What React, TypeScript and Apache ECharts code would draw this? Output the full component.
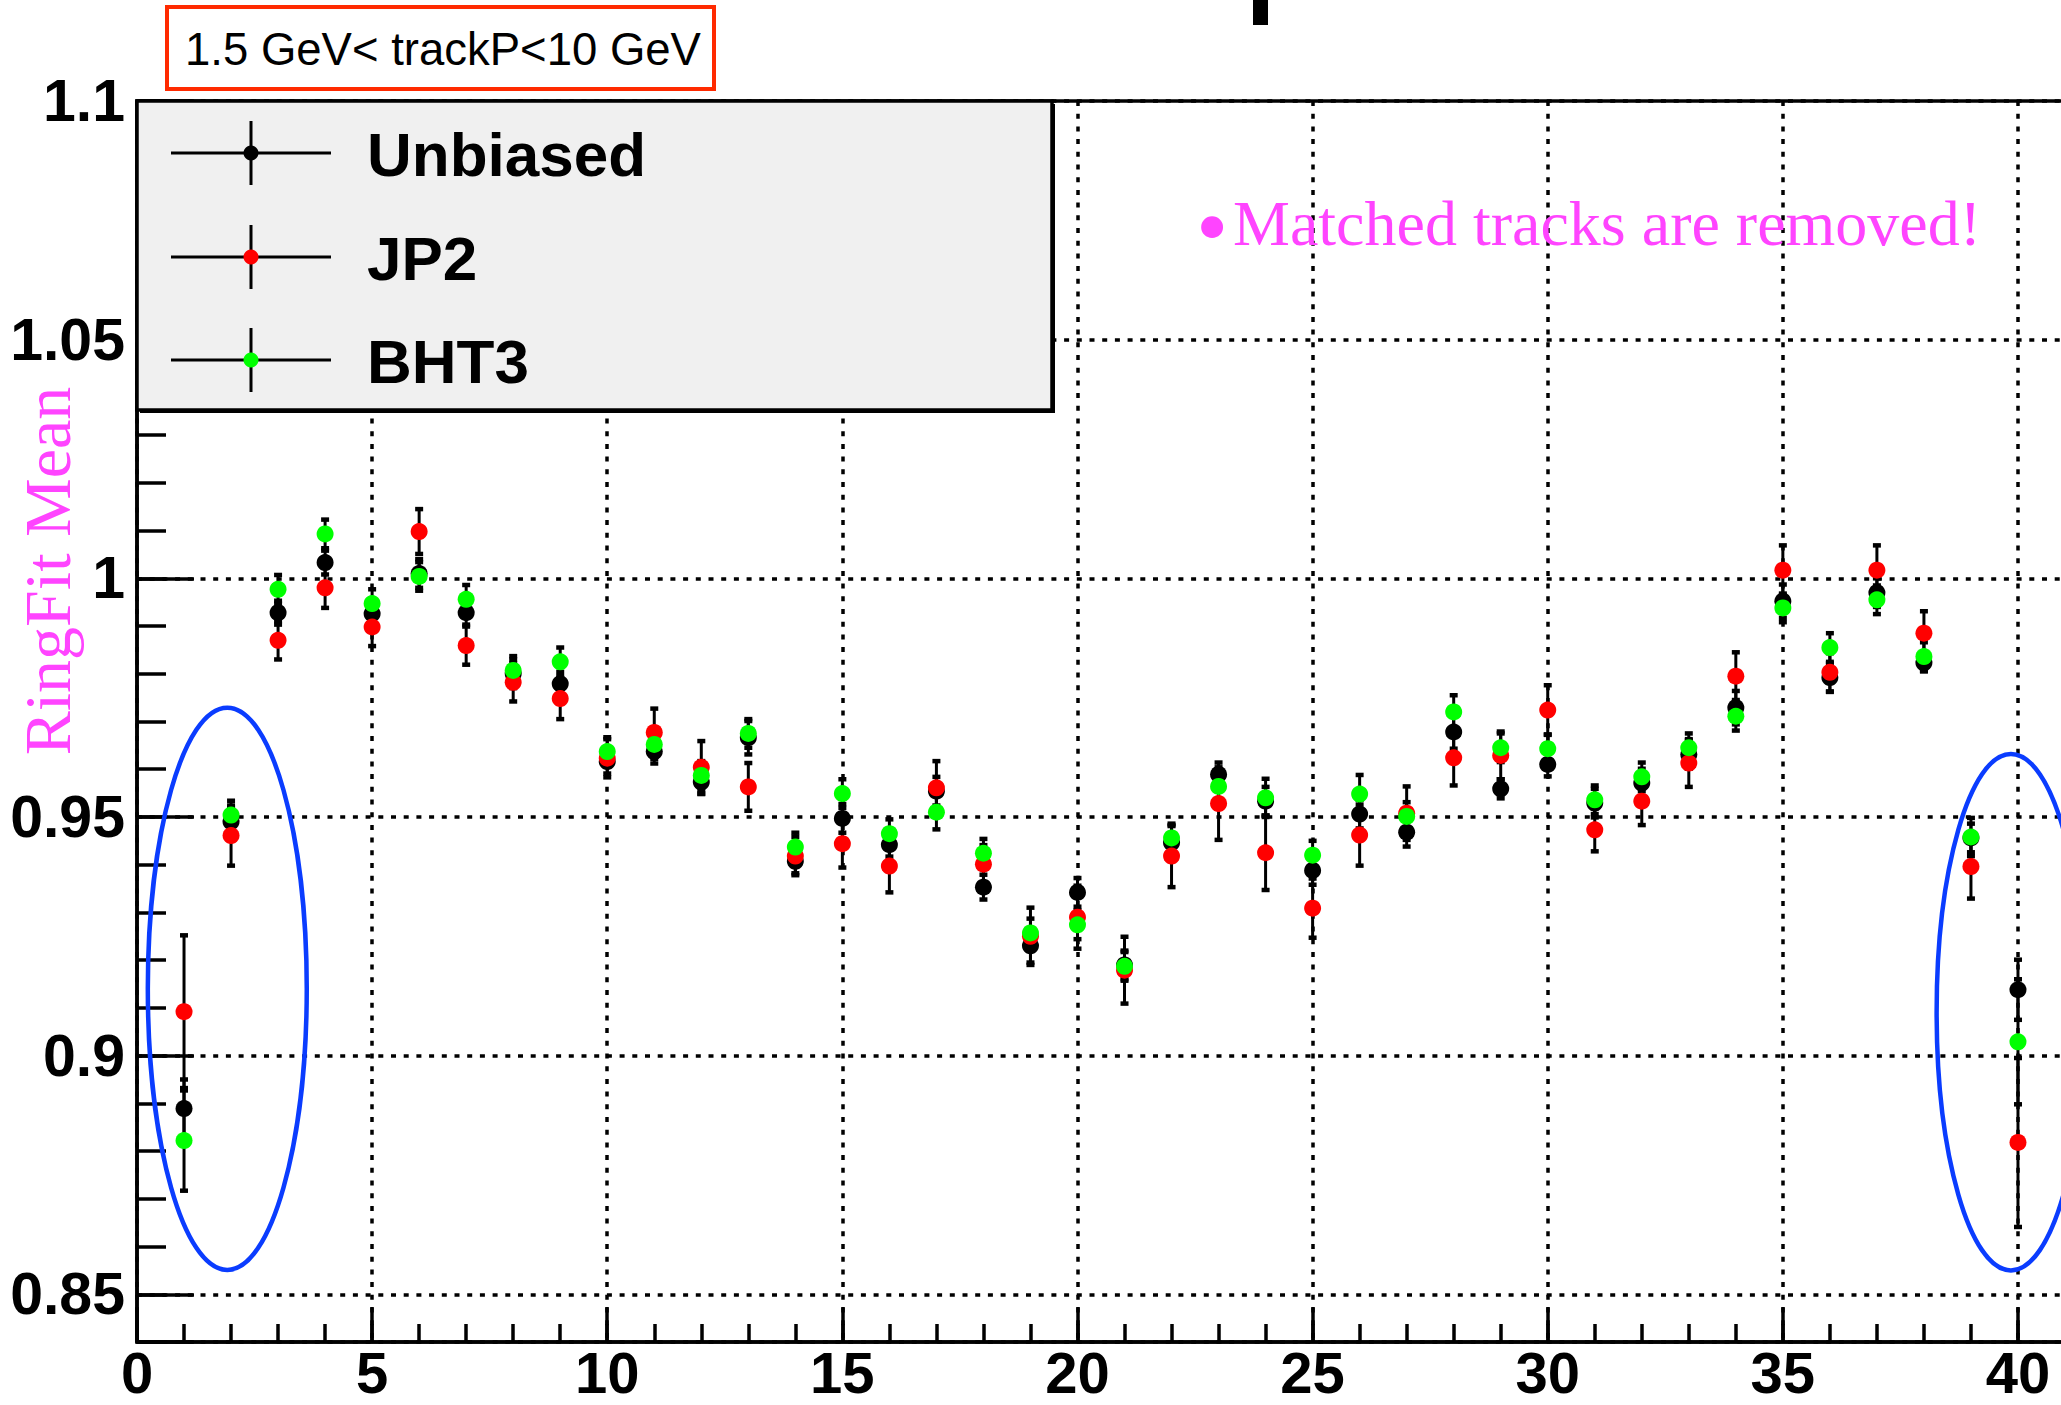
import React, { useEffect, useRef } from "react";
import * as echarts from "echarts";

// ---------------- data ----------------
const bins = [1, 2, 3, 4, 5, 6, 7, 8, 9, 10, 11, 12, 13, 14, 15, 16, 17, 18, 19, 20,
  21, 22, 23, 24, 25, 26, 27, 28, 29, 30, 31, 32, 33, 34, 35, 36, 37, 38, 39, 40];

const unbiased = [0.8889, 0.949, 0.9928, 1.0033, 0.9926, 1.001, 0.9928, 0.98, 0.9779, 0.9616,
  0.9637, 0.9573, 0.9666, 0.9407, 0.9497, 0.9442, 0.9554, 0.9353, 0.923, 0.9342,
  0.919, 0.9446, 0.9589, 0.9533, 0.9388, 0.9506, 0.9468, 0.9678, 0.9559, 0.961,
  0.9529, 0.9571, 0.9631, 0.9729, 0.9952, 0.9792, 0.997, 0.9823, 0.9456, 0.9138];
const unbiasedErr = [0.0061, 0.003, 0.0025, 0.0025, 0.0025, 0.003, 0.0025, 0.003, 0.0025, 0.0025,
  0.0025, 0.0025, 0.0035, 0.0025, 0.003, 0.0025, 0.003, 0.0026, 0.0035, 0.003,
  0.003, 0.0035, 0.0025, 0.003, 0.003, 0.003, 0.003, 0.0035, 0.002, 0.0025,
  0.003, 0.003, 0.003, 0.0035, 0.0035, 0.003, 0.003, 0.0018, 0.003, 0.0063];

const jp2 = [0.9092, 0.9461, 0.987, 0.998, 0.9898, 1.0098, 0.9859, 0.9782, 0.9748, 0.9623,
  0.9677, 0.9604, 0.9563, 0.9418, 0.9444, 0.9397, 0.9561, 0.9401, 0.925, 0.929,
  0.9179, 0.9418, 0.9528, 0.9425, 0.9309, 0.9462, 0.9508, 0.9624, 0.9629, 0.9724,
  0.9473, 0.9533, 0.9613, 0.9795, 1.0017, 0.9803, 1.0017, 0.9885, 0.9396, 0.8818];
const jp2Err = [0.016, 0.0063, 0.004, 0.0042, 0.004, 0.0047, 0.004, 0.004, 0.0043, 0.004,
  0.005, 0.0055, 0.005, 0.004, 0.005, 0.0055, 0.0056, 0.004, 0.006, 0.0066,
  0.007, 0.0065, 0.0076, 0.0078, 0.0062, 0.0064, 0.0056, 0.0058, 0.005, 0.0052,
  0.0045, 0.005, 0.005, 0.005, 0.0052, 0.004, 0.0052, 0.0046, 0.0067, 0.0177];

const bht3 = [0.8822, 0.9504, 0.9977, 1.0093, 0.9947, 1.0004, 0.9956, 0.9807, 0.9825, 0.9637,
  0.9652, 0.9587, 0.9675, 0.9437, 0.9549, 0.9465, 0.951, 0.9424, 0.9257, 0.9274,
  0.9187, 0.9456, 0.9564, 0.954, 0.942, 0.9548, 0.9501, 0.972, 0.9645, 0.9643,
  0.9536, 0.9584, 0.9645, 0.9711, 0.9938, 0.9855, 0.9955, 0.9836, 0.9458, 0.9029];
const bht3Err = [0.0105, 0.003, 0.003, 0.003, 0.003, 0.003, 0.003, 0.003, 0.003, 0.003,
  0.003, 0.003, 0.003, 0.003, 0.003, 0.003, 0.0036, 0.003, 0.003, 0.003,
  0.003, 0.003, 0.003, 0.004, 0.003, 0.004, 0.003, 0.0035, 0.003, 0.003,
  0.003, 0.003, 0.003, 0.003, 0.003, 0.003, 0.003, 0.003, 0.004, 0.0131];

const seriesNames = ["Unbiased", "JP2", "BHT3"];
const seriesColors = ["#000000", "#ff0000", "#00ff00"];

const xTickValues = [0, 5, 10, 15, 20, 25, 30, 35, 40];
const xTickLabels = ["0", "5", "10", "15", "20", "25", "30", "35", "40"];
const yTickValues = [0.85, 0.9, 0.95, 1.0, 1.05, 1.1];
const yTickLabels = ["0.85", "0.9", "0.95", "1", "1.05", "1.1"];

// annotation ellipses: [centerX, centerY, halfWidth, halfHeight] in data units
const ellipses = [
  [1.92, 0.914, 1.69, 0.0589],
  [39.85, 0.9091, 1.58, 0.0541],
];

const cutLabel = "1.5 GeV< trackP<10 GeV";
const noteText = "Matched tracks are removed!";
const yTitle = "RingFit Mean";

// ---------------- helpers ----------------
const labelFor = (values: number[], labels: string[]) => (v: number) => {
  for (let i = 0; i < values.length; i++) {
    if (Math.abs(values[i] - v) < 1e-6) return labels[i];
  }
  return "";
};

const pairs = (vals: number[], errs: number[]) =>
  bins.map((b, i) => [b, vals[i], errs[i]]);

export default function App() {
  const ref = useRef<HTMLDivElement>(null);

  useEffect(() => {
    if (!ref.current) return;
    const chart = echarts.init(ref.current, null, { renderer: "svg" });

    const tickFont = {
      fontFamily: "Liberation Sans, Arial, Helvetica, sans-serif",
      fontWeight: "bold" as const,
      fontSize: 58,
      color: "#000",
    };
    const dotted = { color: "#000", width: 3.5, type: [5, 7.7] as number[] };

    const errorSeries = [unbiased, jp2, bht3].map((vals, k) => ({
      type: "custom",
      name: seriesNames[k] + " err",
      xAxisIndex: 0,
      yAxisIndex: 0,
      z: 3,
      silent: true,
      clip: false,
      data: pairs(vals, [unbiasedErr, jp2Err, bht3Err][k]),
      encode: { x: 0, y: 1 },
      renderItem: (params: any, api: any) => {
        const x = api.value(0);
        const y = api.value(1);
        const e = api.value(2);
        const top = api.coord([x, y + e]);
        const bot = api.coord([x, y - e]);
        const st = { stroke: "#000", lineWidth: 3 };
        const cap = { stroke: "#000", lineWidth: 4.5 };
        return {
          type: "group",
          children: [
            { type: "line", shape: { x1: top[0], y1: top[1], x2: bot[0], y2: bot[1] }, style: st },
            { type: "line", shape: { x1: top[0] - 4, y1: top[1], x2: top[0] + 4, y2: top[1] }, style: cap },
            { type: "line", shape: { x1: bot[0] - 4, y1: bot[1], x2: bot[0] + 4, y2: bot[1] }, style: cap },
          ],
        };
      },
    }));

    const markerSeries = [unbiased, jp2, bht3].map((vals, k) => ({
      type: "scatter",
      name: seriesNames[k],
      xAxisIndex: 0,
      yAxisIndex: 0,
      z: 4 + k,
      symbol: "circle",
      symbolSize: 17,
      itemStyle: { color: seriesColors[k], opacity: 1 },
      data: bins.map((b, i) => [b, vals[i]]),
    }));

    const ellipseSeries = {
      type: "custom",
      name: "highlight",
      xAxisIndex: 0,
      yAxisIndex: 0,
      z: 8,
      silent: true,
      clip: false,
      data: ellipses,
      encode: { x: 0, y: 1 },
      renderItem: (params: any, api: any) => {
        const c = api.coord([api.value(0), api.value(1)]);
        const s = api.size([api.value(2), api.value(3)]);
        return {
          type: "ellipse",
          shape: { cx: c[0], cy: c[1], rx: s[0], ry: s[1] },
          style: { fill: "none", stroke: "#0a3cff", lineWidth: 4.5 },
        };
      },
    };

    const legendY = [153, 257, 360];
    const legendGraphics: any[] = [
      {
        type: "rect",
        z: 100,
        shape: { x: 140, y: 104, width: 915, height: 309 },
        style: { fill: "#000" },
      },
      {
        type: "rect",
        z: 101,
        shape: { x: 137, y: 101, width: 915, height: 309 },
        style: { fill: "#f0f0f0", stroke: "#000", lineWidth: 3.5 },
      },
    ];
    seriesNames.forEach((name, k) => {
      const y = legendY[k];
      legendGraphics.push(
        { type: "line", z: 102, shape: { x1: 171, y1: y, x2: 331, y2: y }, style: { stroke: "#000", lineWidth: 3 } },
        { type: "line", z: 102, shape: { x1: 251, y1: y - 32, x2: 251, y2: y + 32 }, style: { stroke: "#000", lineWidth: 3 } },
        { type: "circle", z: 103, shape: { cx: 251, cy: y, r: 7.5 }, style: { fill: seriesColors[k] } },
        {
          type: "text",
          z: 103,
          x: 367,
          y: y + 1,
          style: {
            text: name,
            fill: "#000",
            font: "bold 62px 'Liberation Sans', Arial, sans-serif",
            textAlign: "left",
            textVerticalAlign: "middle",
            align: "left",
            verticalAlign: "middle",
          },
        }
      );
    });

    const otherGraphics: any[] = [
      // fragment of a cropped title glyph at the top edge
      { type: "rect", z: 50, shape: { x: 1253, y: 0, width: 15, height: 25 }, style: { fill: "#000" } },
      // cut box
      {
        type: "rect",
        z: 50,
        shape: { x: 167, y: 7, width: 547, height: 82 },
        style: { fill: "#fff", stroke: "#ff2a00", lineWidth: 4 },
      },
      {
        type: "text",
        z: 51,
        x: 185,
        y: 49,
        style: {
          text: cutLabel,
          fill: "#000",
          font: "45.5px 'Liberation Sans', Arial, sans-serif",
          textAlign: "left",
          textVerticalAlign: "middle",
          align: "left",
          verticalAlign: "middle",
        },
      },
      // note
      {
        type: "text",
        z: 51,
        x: 1212,
        y: 226,
        style: {
          text: "•",
          fill: "#ff44ff",
          font: "92px 'Liberation Serif', 'Times New Roman', serif",
          textAlign: "center",
          textVerticalAlign: "middle",
          align: "center",
          verticalAlign: "middle",
        },
      },
      {
        type: "text",
        z: 51,
        x: 1233,
        y: 223,
        style: {
          text: noteText,
          fill: "#ff44ff",
          font: "64px 'Liberation Serif', 'Times New Roman', serif",
          textAlign: "left",
          textVerticalAlign: "middle",
          align: "left",
          verticalAlign: "middle",
        },
      },
      // y axis title
      {
        type: "text",
        z: 51,
        x: 47,
        y: 571,
        rotation: Math.PI / 2,
        style: {
          text: yTitle,
          fill: "#ff44ff",
          font: "66px 'Liberation Serif', 'Times New Roman', serif",
          textAlign: "center",
          textVerticalAlign: "middle",
          align: "center",
          verticalAlign: "middle",
        },
      },
    ];

    chart.setOption({
      animation: false,
      backgroundColor: "#fff",
      grid: {
        left: 137,
        right: -4,
        top: 101,
        bottom: 63,
        containLabel: false,
        outerBoundsMode: "none",
        show: true,
        borderColor: "#000",
        borderWidth: 3.5,
        backgroundColor: "transparent",
      },
      xAxis: [
        {
          type: "value",
          min: 0,
          max: 41,
          interval: 5,
          position: "bottom",
          axisLine: { show: true, onZero: false, lineStyle: { color: "#000", width: 3.5 } },
          axisTick: { show: true, inside: true, length: 35, lineStyle: { color: "#000", width: 3.5 } },
          axisLabel: {
            show: true,
            margin: 9,
            lineHeight: 42,
            showMinLabel: true,
            showMaxLabel: true,
            hideOverlap: false,
            formatter: labelFor(xTickValues, xTickLabels),
            ...tickFont,
          },
          splitLine: { show: true, lineStyle: dotted },
          minorTick: { show: false },
        },
        {
          type: "value",
          min: 0,
          max: 41,
          interval: 1,
          position: "bottom",
          offset: 0,
          axisLine: { show: false },
          axisTick: { show: true, inside: true, length: 18, lineStyle: { color: "#000", width: 3.5 } },
          axisLabel: { show: false },
          splitLine: { show: false },
        },
      ],
      yAxis: [
        {
          type: "value",
          min: 0.84,
          max: 1.1,
          splitNumber: 5,
          position: "left",
          axisLine: { show: true, onZero: false, lineStyle: { color: "#000", width: 3.5 } },
          axisTick: {
            show: true,
            inside: true,
            length: 57,
            lineStyle: { color: "#000", width: 3.5 },
          },
          axisLabel: {
            show: true,
            margin: 12,
            showMinLabel: true,
            showMaxLabel: true,
            hideOverlap: false,
            formatter: labelFor(yTickValues, yTickLabels),
            ...tickFont,
            fontSize: 59,
          },
          splitLine: { show: true, lineStyle: dotted },
        },
        {
          type: "value",
          min: 0.84,
          max: 1.1,
          interval: 0.01,
          position: "left",
          offset: 0,
          axisLine: { show: false },
          axisTick: { show: true, inside: true, length: 29, lineStyle: { color: "#000", width: 3.5 } },
          axisLabel: { show: false },
          splitLine: { show: false },
        },
      ],
      series: [...errorSeries, ...markerSeries, ellipseSeries],
      graphic: [...legendGraphics, ...otherGraphics],
    });

    return () => chart.dispose();
  }, []);

  return (
    <div
      ref={ref}
      style={{ position: "absolute", left: 0, top: 0, width: 2061, height: 1405, background: "#fff" }}
    />
  );
}
